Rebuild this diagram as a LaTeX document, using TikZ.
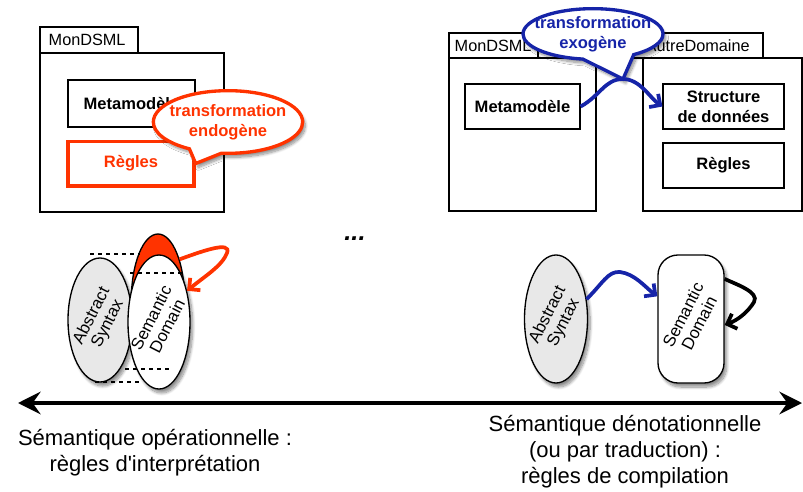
\documentclass[tikz,border=0pt]{standalone}
\usepackage{fontspec}
\setmainfont{Liberation Sans}
\usetikzlibrary{shapes.geometric,shapes.callouts,arrows.meta,shadows.blur}
\definecolor{myred}{RGB}{255,51,0}
\definecolor{myblue}{RGB}{22,36,168}
\begin{document}
\begin{tikzpicture}[x=0.75pt,y=-0.75pt,
  pkgline/.style={draw, line width=0.9pt, fill=white, inner sep=0pt},
  tabbox/.style={pkgline, font=\fontsize{12.2}{14}\selectfont},
  inbox/.style={draw, line width=0.9pt, fill=white, inner sep=0pt, align=center,
    font=\bfseries\fontsize{12.4}{15}\selectfont},
  shad/.style={blur shadow={shadow xshift=2pt, shadow yshift=-3pt, shadow blur steps=10, shadow opacity=45}},
  callfont/.style={font=\bfseries\fontsize{12.4}{15}\selectfont, align=center},
  vtext/.style={font=\fontsize{12.6}{13.5}\selectfont, align=center, rotate=63},
  barb/.style={-{Straight Barb[length=6pt,width=12pt]}, line width=2.8pt},
  bigtext/.style={font=\fontsize{16.5}{19.5}\selectfont, align=center}
]
\useasboundingbox (0,0) rectangle (803,492);

% ---------- left package ----------
\node[tabbox, minimum width=73.5pt, minimum height=19.5pt] (tabL) at (89,40) {};
\node[anchor=west, font=\fontsize{12.2}{14}\selectfont] (tabLt) at (44,40) {MonDSML};
\node[pkgline, minimum width=138pt, minimum height=119.25pt] (bodyL) at (132,132.5) {};
\node[inbox, minimum width=95.25pt, minimum height=35.25pt] (metaL) at (131.5,103.5) {Metamodèle};
\node[inbox, draw=myred, text=myred, line width=2.5pt, minimum width=94.5pt, minimum height=33.5pt] (reglesL) at (131,163.5) {Règles};

% red callout
\node[ellipse callout, draw=myred, line width=2.5pt, fill=white, shad, inner sep=0pt,
  minimum width=112pt, minimum height=47pt, callout pointer arc=26,
  callout absolute pointer={(reglesL.east)}] (callR) at (228,122) {};
\node[text=myred, callfont] (callRt) at (callR.center) {transformation\\endogène};

% ---------- right packages ----------
\node[tabbox, minimum width=168.75pt, minimum height=18.75pt] (tabA) at (650.5,45.5) {};
\node[anchor=west, font=\fontsize{12.2}{14}\selectfont] (tabAt) at (641,45.5) {AutreDomaine};
\node[tabbox, minimum width=66.75pt, minimum height=18.75pt] (tabM) at (493.5,45.5) {};
\node[anchor=west, font=\fontsize{12.2}{14}\selectfont] (tabMt) at (450,45.5) {MonDSML};
\node[pkgline, minimum width=110.25pt, minimum height=114.75pt] (bodyM) at (522.5,134.5) {};
\node[pkgline, minimum width=119.25pt, minimum height=114.75pt] (bodyA) at (722.5,134.5) {};
\node[inbox, minimum width=86.25pt, minimum height=33.75pt] (metaR) at (522.5,106.5) {Metamodèle};
\node[inbox, minimum width=90.75pt, minimum height=33.75pt] (struct) at (723.5,106.5) {Structure\\de données};
\node[inbox, minimum width=90.75pt, minimum height=33.75pt] (reglesR) at (723.5,165.5) {Règles};

\coordinate (tip) at (623,79);
% blue callout
\node[ellipse callout, draw=myblue, line width=2.5pt, fill=white, shad, inner sep=0pt,
  minimum width=105pt, minimum height=38pt, callout pointer arc=44,
  callout absolute pointer={(tip)}] (callB) at (593,34) {};
\node[text=myblue, callfont] (callBt) at (callB.center) {transformation\\exogène};
\draw[barb, myblue] (metaR.east) .. controls (600,96) and (605,79) .. (tip)
  .. controls (640,79) and (650,98) .. (struct.west);

% dots
\node[font=\bfseries\itshape\fontsize{19}{20}\selectfont] (dots) at (355,239) {...};

% ---------- bottom left ----------
\node[ellipse, draw, line width=1pt, fill=gray!18, shad, minimum width=48pt, minimum height=93pt, inner sep=0pt] (as1) at (100,320) {};
\node[vtext] (as1t) at (as1.center) {Abstract\\Syntax};
\node[ellipse, draw, line width=1pt, fill=myred, minimum width=40pt, minimum height=99pt, inner sep=0pt] (redE) at (158,300) {};
\node[ellipse, draw, line width=1pt, fill=white, shad, minimum width=46.5pt, minimum height=100.5pt, inner sep=0pt] (sd1) at (159,322) {};
\node[vtext] (sd1t) at (sd1.center) {Semantic\\Domain};
\draw[dashed, line width=0.9pt] (90,254) -- (140,254);
\draw[dashed, line width=0.9pt] (130,273) -- (183,273);
\draw[dashed, line width=0.9pt] (125,369) -- (173,369);
\draw[dashed, line width=0.9pt] (95,382) -- (142,382);
\draw[barb, myred] (redE.62) .. controls (200,252) and (232,240) .. (227,253)
  .. controls (222,266) and (205,276) .. (sd1.48);

% ---------- bottom right ----------
\node[ellipse, draw, line width=1pt, fill=gray!18, shad, minimum width=47.25pt, minimum height=96pt, inner sep=0pt] (as2) at (556,319) {};
\node[vtext] (as2t) at (as2.center) {Abstract\\Syntax};
\node[draw, line width=1pt, fill=white, shad, rounded corners=15pt, minimum width=49.5pt, minimum height=96pt, inner sep=0pt] (sd2) at (691,319) {};
\node[vtext] (sd2t) at (sd2.center) {Semantic\\Domain};
\draw[barb, myblue] (as2.33) .. controls (603,283) and (608,271) .. (620,272)
  .. controls (635,274) and (645,287) .. (sd2.146);
\draw[barb, black] (sd2.50) .. controls (735,284) and (760,292) .. (754,302)
  .. controls (748,312) and (738,320) .. (sd2.-10);

% ---------- axis ----------
\coordinate (axL) at (18,403);
\coordinate (axR) at (802,403);
\draw[line width=2.3pt, {Stealth[length=17pt,width=17pt,inset=6pt]}-{Stealth[length=17pt,width=17pt,inset=6pt]}] (axL) -- (axR);

\node[bigtext] (txtL) at (155,453) {Sémantique opérationnelle :\\règles d\textquotesingle interprétation};
\node[bigtext] (txtR) at (625,452) {Sémantique dénotationnelle\\(ou par traduction) :\\règles de compilation};
\end{tikzpicture}
\end{document}
